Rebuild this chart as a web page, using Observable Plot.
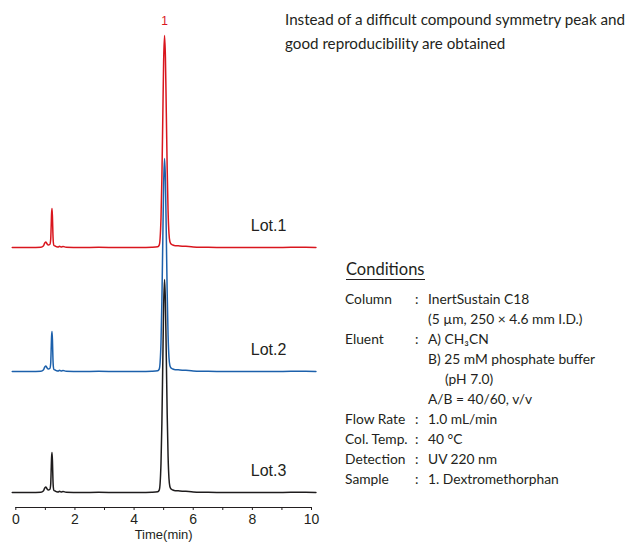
<!DOCTYPE html>
<html>
<head>
<meta charset="utf-8">
<script src="https://cdn.jsdelivr.net/npm/d3@7"></script>
<script src="https://cdn.jsdelivr.net/npm/@observablehq/plot@0.6"></script>
<style>
  html, body { margin: 0; padding: 0; background: #fff; }
  #wrap { position: relative; width: 632px; height: 544px; overflow: hidden; }
  #wrap svg { position: absolute; left: 0; top: 0; }
  .note { position: absolute; font-family: Lato, "Open Sans", sans-serif; color: #231f20; white-space: nowrap; }
  .cond { position: absolute; font-family: Lato, "Open Sans", sans-serif; font-size: 13.8px; color: #231f20; white-space: nowrap; line-height: 20px; }
</style>
</head>
<body>
<div id="wrap"></div>
<script>
// ---- data ----
const lots = ["Lot.1", "Lot.2", "Lot.3"];
const colors = ["#d9161e", "#1c60ab", "#1e1c1d"];
const times = [-0.12, 0.5, 0.85, 0.93, 0.98, 1.02, 1.06, 1.10, 1.15, 1.18, 1.195, 1.21, 1.225, 1.24, 1.255, 1.27, 1.29, 1.33, 1.38, 1.43, 1.48, 1.53, 1.6, 1.7, 2.2, 2.8, 3.5, 4.2, 4.6, 4.8, 4.85, 4.88, 4.91, 4.94, 4.97, 5.00, 5.03, 5.06, 5.09, 5.12, 5.15, 5.18, 5.21, 5.25, 5.31, 5.4, 5.55, 5.75, 6.0, 6.4, 7.0, 7.8, 8.6, 9.3, 9.8, 10.15];
const lot1 = [0, 0, 0.3, 1.5, 4.5, 5.5, 3.5, 2.5, 3, 8, 20, 34, 39, 30, 14, 5, 2, 1.5, 0.8, 0.4, 1.3, 0.6, 1, 0.2, 0, 0.2, 0, 0, 0.3, 0.8, 2.4, 9, 29, 69, 128, 187, 212, 190, 135, 78, 36, 14, 6, 3.5, 2.5, 1.8, 1.6, 1.2, 0.6, 0.3, 0, 0.1, 0, 0.2, 0.3, 0];
const lot2 = [0, 0, 0.3, 1.5, 4.5, 5.5, 3.5, 2.5, 3, 8, 21, 35, 40, 31, 14, 5, 2, 1.5, 0.8, 0.4, 1.3, 0.6, 1, 0.2, 0, 0.2, 0, 0, 0.3, 0.8, 2.4, 9, 29, 70, 129, 188, 213, 191, 136, 78, 36, 14, 6, 3.5, 2.5, 1.8, 1.6, 1.2, 0.6, 0.3, 0, 0.1, 0, 0.2, 0.3, 0];
const lot3 = [0, 0, 0.3, 1.5, 4.5, 5.5, 3.5, 2.5, 3, 8, 21, 35, 40, 31, 14, 5, 2, 1.5, 0.8, 0.4, 1.3, 0.6, 1, 0.2, 0, 0.2, 0, 0, 0.3, 0.8, 2.4, 9, 29, 69, 128, 187, 213, 190, 135, 78, 36, 14, 6, 3.5, 2.5, 1.8, 1.6, 1.2, 0.6, 0.3, 0, 0.1, 0, 0.2, 0.3, 0];
const xTicks = [0, 1, 2, 3, 4, 5, 6, 7, 8, 9, 10];
const peakLabel = "1";
const peakTime = 5.03;
const peakHeight = 212;

// ---- display options ----
const offsets = [260, 136, 15];
const series = [lot1, lot2, lot3];
const rows = [];
series.forEach((vals, i) => {
  vals.forEach((v, j) => rows.push({lot: lots[i], t: times[j], y: v + offsets[i]}));
});
const labelRows = lots.map((l, i) => ({lot: l, t: 8.55, y: offsets[i] + 22}));

const chart = Plot.plot({
  width: 632,
  height: 544,
  marginLeft: 15.3,
  marginRight: 321,
  marginTop: 7,
  marginBottom: 37,
  style: {fontFamily: "'Liberation Sans', Arial, sans-serif", fontSize: "14px", color: "#231f20"},
  x: {domain: [0, 10]},
  y: {domain: [0, 500], axis: null},
  color: {domain: lots, range: colors},
  marks: [
    Plot.ruleY([0], {stroke: "#231f20", strokeWidth: 1}),
    Plot.axisX({ticks: xTicks, tickSize: 3, tickPadding: 4, tickFormat: d => d % 2 === 0 ? String(d) : "",
      fontSize: 14, label: null, stroke: "#231f20"}),
    Plot.text(["Time(min)"], {frameAnchor: "bottom", dy: 31, text: d => d, fill: "#231f20", fontSize: 13}),
    Plot.line(rows, {x: "t", y: "y", z: "lot", stroke: "lot", strokeWidth: 1.5, curve: "monotone-x"}),
    Plot.text(labelRows, {x: "t", y: "y", text: "lot", fill: "#231f20", fontSize: 16}),
    Plot.text([peakLabel], {x: peakTime, y: offsets[0] + peakHeight + 14, text: d => d, fill: "#d9161e", fontSize: 12})
  ]
});
const wrap = document.getElementById("wrap");
wrap.appendChild(chart);

// ---- annotation text ----
const noteLines = ["Instead of a difficult compound symmetry peak and", "good reproducibility are obtained"];
noteLines.forEach((s, i) => {
  const d = document.createElement("div");
  d.className = "note";
  d.style.left = "285px";
  d.style.top = (10 + i * 24) + "px";
  d.style.fontSize = "15.2px";
  d.textContent = s;
  wrap.appendChild(d);
});

const condTitle = document.createElement("div");
condTitle.className = "note";
condTitle.style.left = "346px";
condTitle.style.top = "259px";
condTitle.style.fontSize = "16.5px";
condTitle.style.borderBottom = "1px solid #231f20";
condTitle.style.paddingBottom = "0px";
condTitle.style.lineHeight = "20px";
condTitle.textContent = "Conditions";
wrap.appendChild(condTitle);

const condLabels = ["Column", "", "Eluent", "", "", "", "Flow Rate", "Col. Temp.", "Detection", "Sample"];
const condValues = ["InertSustain C18", "(5 µm, 250 × 4.6 mm I.D.)", "A) CH₃CN", "B) 25 mM phosphate buffer", "(pH 7.0)", "A/B = 40/60, v/v", "1.0 mL/min", "40 °C", "UV 220 nm", "1. Dextromethorphan"];
condValues.forEach((v, i) => {
  const top = 289 + i * 20;
  if (condLabels[i]) {
    const a = document.createElement("div");
    a.className = "cond"; a.style.left = "345px"; a.style.top = top + "px";
    a.textContent = condLabels[i]; wrap.appendChild(a);
    const c = document.createElement("div");
    c.className = "cond"; c.style.left = "415px"; c.style.top = top + "px";
    c.textContent = ":"; wrap.appendChild(c);
  }
  const b = document.createElement("div");
  b.className = "cond"; b.style.left = (v.startsWith("(pH") ? 445 : 428) + "px"; b.style.top = top + "px";
  b.textContent = v; wrap.appendChild(b);
});
</script>
</body>
</html>
